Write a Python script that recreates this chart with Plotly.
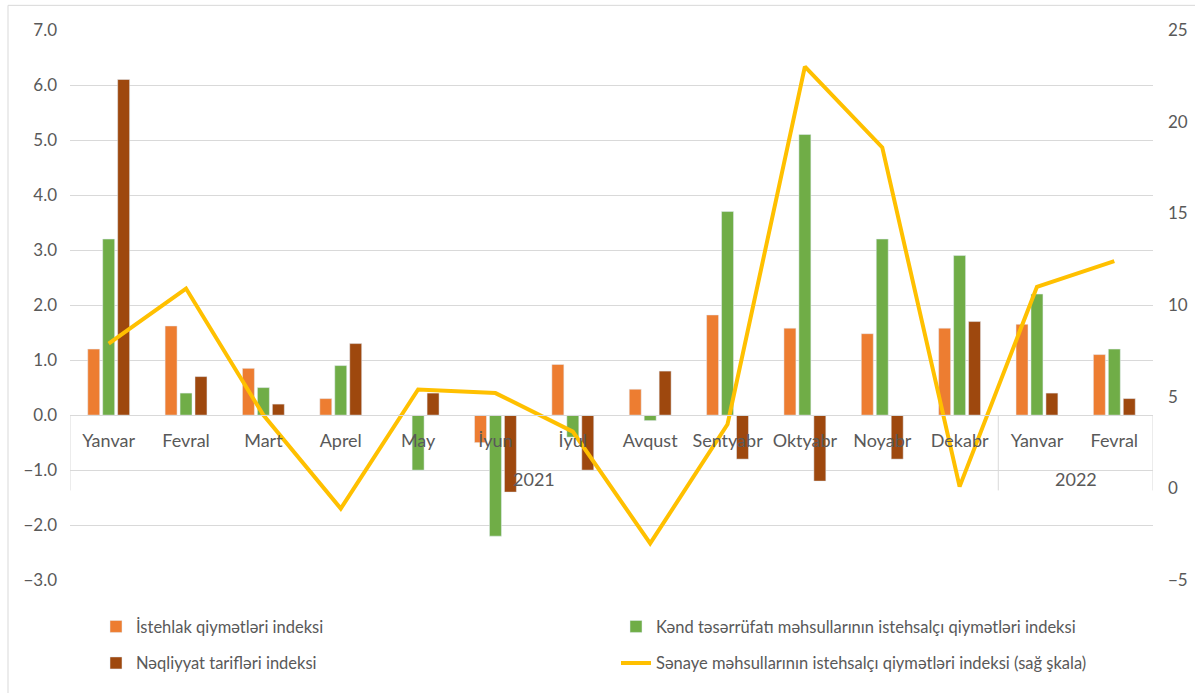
import plotly.graph_objects as go

months = ["Yanvar", "Fevral", "Mart", "Aprel", "May", "İyun", "İyul", "Avqust",
          "Sentyabr", "Oktyabr", "Noyabr", "Dekabr", "Yanvar", "Fevral"]
years = ["2021"] * 12 + ["2022"] * 2

consumer_prices = [1.2, 1.62, 0.85, 0.3, 0.0, -0.5, 0.92, 0.47, 1.82, 1.58, 1.48, 1.58, 1.65, 1.1]
agri_prices = [3.2, 0.4, 0.5, 0.9, -1.0, -2.2, -0.4, -0.1, 3.7, 5.1, 3.2, 2.9, 2.2, 1.2]
transport_tariffs = [6.1, 0.7, 0.2, 1.3, 0.4, -1.4, -1.0, 0.8, -0.8, -1.2, -0.8, 1.7, 0.4, 0.3]
industry_prices = [7.9, 10.9, 4.0, -1.1, 5.4, 5.2, 3.1, -3.0, 3.5, 23.0, 18.6, 0.1, 11.0, 12.4]

# months repeat across years, so bars sit on index positions and the
# month labels are put on the axis as tick text
pos = list(range(len(months)))
year_names = sorted(set(years))
year_centers = [sum(i for i, y in enumerate(years) if y == yr) / years.count(yr) for yr in year_names]
year_bounds = [-0.5] + [i + 0.5 for i in range(len(years) - 1) if years[i] != years[i + 1]] + [len(years) - 0.5]

W, H = 1195, 693
font_family = "Lato, 'Open Sans', sans-serif"
grid = "#d9d9d9"
text_gray = "#595959"
tick_font = dict(size=18, color=text_gray)

# small bottom margin: the legend lives inside the paper, under the plot domain
top, bottom, plot_bottom = 30, 24, 588
paper_h = H - top - bottom


def py(pixel_y):
    return (H - bottom - pixel_y) / paper_h


def px_(pixel_x):
    return (pixel_x - 70) / 1083


y_domain0 = py(plot_bottom)
zero_pos = y_domain0 + 0.3 * (1 - y_domain0)

fig = go.Figure()
fig.add_trace(go.Bar(x=pos, y=consumer_prices, name="İstehlak qiymətləri indeksi",
                     marker_color="#ED7D31", legend="legend"))
fig.add_trace(go.Bar(x=pos, y=agri_prices,
                     name="Kənd təsərrüfatı məhsullarının istehsalçı qiymətləri indeksi",
                     marker_color="#70AD47", legend="legend"))
fig.add_trace(go.Bar(x=pos, y=transport_tariffs, name="Nəqliyyat tarifləri indeksi",
                     marker_color="#9E480E", legend="legend2"))
fig.add_trace(go.Scatter(x=pos, y=industry_prices, yaxis="y2", mode="lines",
                         name="Sənaye məhsullarının istehsalçı qiymətləri indeksi (sağ şkala)",
                         line=dict(color="#FFC000", width=4), legend="legend2"))

# year labels and the separators between year groups
for name, centre in zip(year_names, year_centers):
    fig.add_annotation(x=centre, y=py(485), xref="x", yref="paper", text=name,
                       showarrow=False, yanchor="middle", font=tick_font)
for b in year_bounds:
    fig.add_shape(type="line", xref="x", yref="paper", x0=b, x1=b,
                  y0=zero_pos, y1=py(497), line=dict(color=grid, width=1))

# outer chart border (left and top edges visible)
fig.add_shape(type="line", xref="paper", yref="paper", x0=px_(8), x1=1.2,
              y0=py(5), y1=py(5), line=dict(color=grid, width=1))
fig.add_shape(type="line", xref="paper", yref="paper", x0=px_(8), x1=px_(8),
              y0=py(5), y1=-0.2, line=dict(color=grid, width=1))

legend_style = dict(
    orientation="h",
    x=px_(96),
    xanchor="left",
    yanchor="bottom",
    entrywidth=475,
    entrywidthmode="pixels",
    font=dict(size=16.5, color=text_gray),
)

fig.update_layout(
    width=W,
    height=H,
    margin=dict(l=70, r=42, t=top, b=bottom),
    paper_bgcolor="white",
    plot_bgcolor="white",
    font=dict(family=font_family, size=16, color=text_gray),
    barmode="group",
    bargap=0.42,
    bargroupgap=0.2,
    xaxis=dict(
        range=[-0.5, len(months) - 0.5],
        anchor="free",
        position=zero_pos,
        tickvals=pos,
        ticktext=months,
        showline=True,
        linecolor=grid,
        showgrid=False,
        zeroline=False,
        ticks="",
        ticklabelstandoff=9,
        automargin=False,
        tickfont=tick_font,
    ),
    yaxis=dict(
        domain=[y_domain0, 1],
        range=[-3, 7],
        dtick=1,
        tickformat=".1f",
        showgrid=True,
        gridcolor=grid,
        zeroline=True,
        zerolinecolor=grid,
        zerolinewidth=1,
        ticks="",
        ticklabelstandoff=12,
        automargin=False,
        tickfont=dict(size=17, color=text_gray),
    ),
    yaxis2=dict(
        range=[-5, 25],
        dtick=5,
        overlaying="y",
        side="right",
        showgrid=False,
        zeroline=False,
        ticks="",
        ticklabelstandoff=14,
        automargin=False,
        tickfont=dict(size=17, color=text_gray),
    ),
    legend=dict(legend_style, y=py(653)),
    legend2=dict(legend_style, y=py(690)),
)

fig.write_html("out.html", config={"displayModeBar": False},
               post_script="document.body.style.margin='0';")
